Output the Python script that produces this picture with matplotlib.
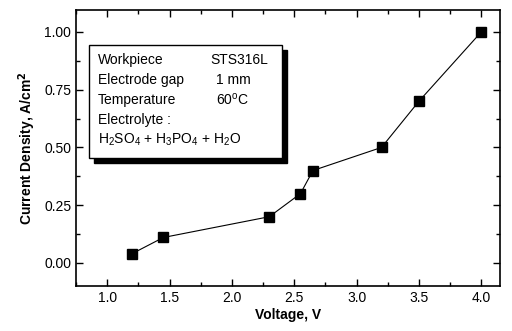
import matplotlib
matplotlib.use("Agg")
import matplotlib.pyplot as plt
from matplotlib.patches import Rectangle
from matplotlib.ticker import MultipleLocator

plt.rcParams['font.family'] = ['Liberation Sans', 'DejaVu Sans']

voltage = [1.2, 1.45, 2.3, 2.55, 2.65, 3.2, 3.5, 4.0]
current = [0.04, 0.11, 0.2, 0.3, 0.4, 0.5, 0.7, 1.0]

fig = plt.figure(figsize=(5.12, 3.31), dpi=100)
ax = fig.add_axes([76/512, 45/331, 424/512, 276/331])

ax.plot(voltage, current, color='black', lw=0.8, marker='s', ms=7, mfc='black', mec='black')

ax.set_xlim(0.75, 4.15)
ax.set_ylim(-0.1, 1.095)
ax.xaxis.set_minor_locator(MultipleLocator(0.25))
ax.yaxis.set_minor_locator(MultipleLocator(0.125))
ax.set_xticks([1.0, 1.5, 2.0, 2.5, 3.0, 3.5, 4.0])
ax.set_xticklabels(['1.0', '1.5', '2.0', '2.5', '3.0', '3.5', '4.0'])
ax.set_yticks([0.0, 0.25, 0.5, 0.75, 1.0])
ax.set_yticklabels(['0.00', '0.25', '0.50', '0.75', '1.00'])
ax.tick_params(which='both', direction='in', top=True, right=True, labelsize=10, width=1)
ax.tick_params(which='major', length=5)
ax.tick_params(which='minor', length=3)
for s in ax.spines.values():
    s.set_linewidth(1.2)

ax.set_xlabel('Voltage, V', fontsize=10, fontweight='bold', labelpad=2)
ax.set_ylabel('Current Density, A/cm$^\\mathbf{2}$', fontsize=10, fontweight='bold', labelpad=4)

# info box with shadow
bx0, by0, bw, bh = 0.031, 0.464, 0.455, 0.409
ax.add_patch(Rectangle((bx0 + 0.012, by0 - 0.018), bw, bh, transform=ax.transAxes,
                       facecolor='black', edgecolor='black', zorder=4))
ax.add_patch(Rectangle((bx0, by0), bw, bh, transform=ax.transAxes,
                       facecolor='white', edgecolor='black', lw=1, zorder=5))
rows = [('Workpiece', 'STS316L', 0.316), ('Electrode gap', '1 mm', 0.33),
        ('Temperature', '60$^{\\mathregular{o}}$C', 0.33)]
ty = 0.819
for left, right, rx in rows:
    ax.text(0.052, ty, left, transform=ax.transAxes, fontsize=10, va='center', zorder=6)
    ax.text(rx, ty, right, transform=ax.transAxes, fontsize=10, va='center', zorder=6)
    ty -= 0.0725
ax.text(0.052, ty, 'Electrolyte :', transform=ax.transAxes, fontsize=10, va='center', zorder=6)
ty -= 0.0725
ax.text(0.052, ty, 'H$_\\mathregular{2}$SO$_\\mathregular{4}$ + H$_\\mathregular{3}$PO$_\\mathregular{4}$ + H$_\\mathregular{2}$O',
        transform=ax.transAxes, fontsize=10, va='center', zorder=6)

fig.savefig('out.png', dpi=100)
